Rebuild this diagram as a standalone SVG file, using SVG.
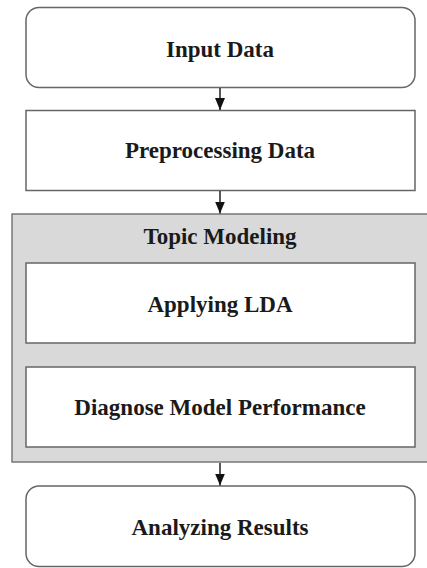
<svg xmlns="http://www.w3.org/2000/svg" width="427" height="568" viewBox="0 0 427 568">
<defs>
<style>
.box{fill:#ffffff;stroke:#666666;stroke-width:1.5}
.grp{fill:#d9d9d9;stroke:#777777;stroke-width:1.5}
.lbl{font-family:"Liberation Serif","Times New Roman",serif;font-weight:bold;font-size:23px;fill:#1a1a1a;text-anchor:middle}
.conn{stroke:#222222;stroke-width:1.5;fill:none}
</style>
<marker id="arr" markerWidth="12" markerHeight="10" refX="12" refY="5" orient="auto" markerUnits="userSpaceOnUse" viewBox="0 0 12 10">
<path d="M0,0 L12,5 L0,10 Z" fill="#111111"/>
</marker>
</defs>
<g id="topic-modeling">
<rect class="grp" x="12" y="214" width="420" height="248"/>
<text class="lbl" x="220" y="244">Topic Modeling</text>
</g>
<g id="input-data">
<rect class="box" x="26" y="7.5" width="389" height="80" rx="13" ry="13"/>
<text class="lbl" x="220" y="57">Input Data</text>
</g>
<g id="preprocessing-data">
<rect class="box" x="26" y="110.5" width="389" height="80"/>
<text class="lbl" x="220" y="158">Preprocessing Data</text>
</g>
<g id="applying-lda">
<rect class="box" x="26" y="263" width="389" height="80"/>
<text class="lbl" x="220" y="312">Applying LDA</text>
</g>
<g id="diagnose-model-performance">
<rect class="box" x="26" y="367" width="389" height="80"/>
<text class="lbl" x="220" y="415">Diagnose Model Performance</text>
</g>
<g id="analyzing-results">
<rect class="box" x="26" y="486" width="389" height="80.5" rx="13" ry="13"/>
<text class="lbl" x="220" y="535">Analyzing Results</text>
</g>
<g id="connectors">
<line class="conn" x1="220" y1="88" x2="220" y2="110" marker-end="url(#arr)"/>
<line class="conn" x1="220" y1="191" x2="220" y2="213.5" marker-end="url(#arr)"/>
<line class="conn" x1="220" y1="463" x2="220" y2="485.5" marker-end="url(#arr)"/>
</g>
</svg>
